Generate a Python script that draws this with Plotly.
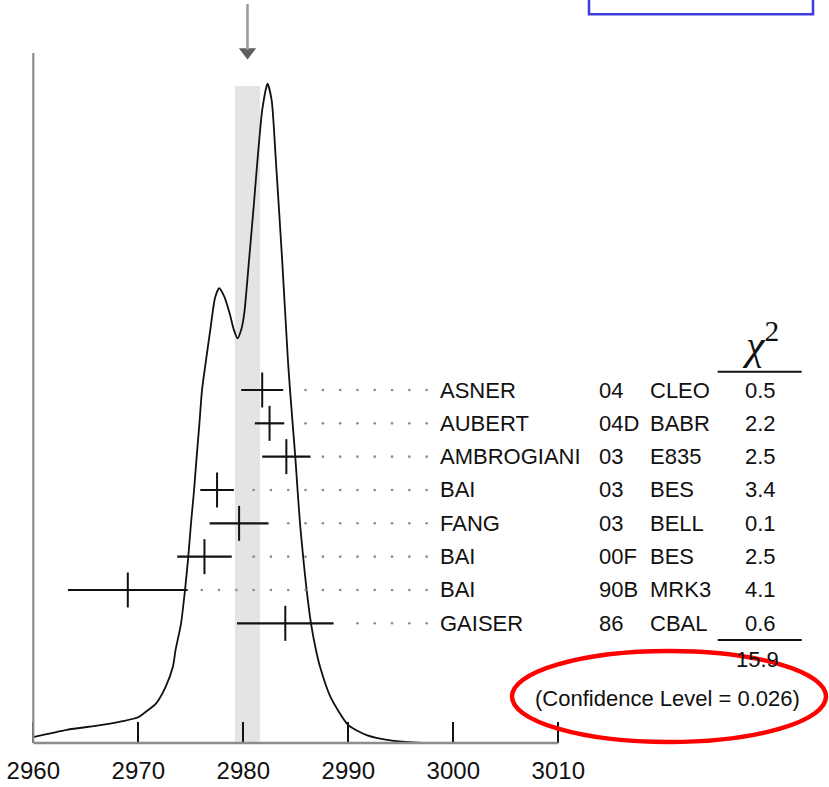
import numpy as np
import plotly.graph_objects as go

# Ideogram of the eta_c mass measurements (arbitrary units, peak ~ 1)
ideo_mass = [2960.0, 2963.2, 2966.4, 2968.5, 2970.0, 2970.7, 2971.7, 2972.6, 2973.3,
             2973.55, 2974.07, 2974.45, 2974.76, 2975.02, 2975.31, 2975.56, 2975.82,
             2976.07, 2976.45, 2976.9, 2977.3, 2977.7, 2978.2, 2978.7, 2979.1, 2979.45,
             2979.8, 2980.1, 2980.55, 2981.0, 2981.35, 2981.8, 2982.3, 2982.7, 2983.1,
             2983.7, 2984.25, 2984.45, 2984.7, 2984.95, 2985.17, 2985.4, 2985.7, 2986.03,
             2986.45, 2986.92, 2987.3, 2988.3, 2990.0, 2991.75, 2994.0, 2996.2, 2998.0,
             3000.0]
ideo_height = [0.009, 0.020, 0.027, 0.033, 0.039, 0.047, 0.060, 0.085, 0.116,
               0.141, 0.181, 0.232, 0.282, 0.333, 0.383, 0.434, 0.484,
               0.535, 0.580, 0.631, 0.674, 0.689, 0.676, 0.651, 0.626, 0.613,
               0.626, 0.652, 0.732, 0.815, 0.883, 0.959, 0.999, 0.974, 0.883,
               0.732, 0.580, 0.535, 0.484, 0.434, 0.383, 0.333, 0.282, 0.232,
               0.181, 0.141, 0.116, 0.070, 0.027, 0.012, 0.004, 0.001, 0.0,
               0.0]

# Individual measurements
authors = ["ASNER", "AUBERT", "AMBROGIANI", "BAI", "FANG", "BAI", "BAI", "GAISER"]
years = ["04", "04D", "03", "03", "03", "00F", "90B", "86"]
experiments = ["CLEO", "BABR", "E835", "BES", "BELL", "BES", "MRK3", "CBAL"]
values = [2981.8, 2982.5, 2984.1, 2977.5, 2979.6, 2976.3, 2969.0, 2984.0]
errors = [2.0, 1.4, 2.3, 1.6, 2.8, 2.6, 5.7, 4.6]
chi2 = [0.5, 2.2, 2.5, 3.4, 0.1, 2.5, 4.1, 0.6]
chi2_total = 15.9
confidence_level = 0.026

# Weighted average and its error
average = 2980.4
average_err = 1.2

tick_values = [2960, 2970, 2980, 2990, 3000, 3010]
tick_labels = ["2960", "2970", "2980", "2990", "3000", "3010"]

W, H = 829, 787
BOTTOM = 44
PLOT_H = H - BOTTOM
PX_PER_MEV = 10.5
X0 = 2960 - 33.3 / PX_PER_MEV
X1 = X0 + W / PX_PER_MEV
PX_PER_UNIT = 660.0
Y_TOP = PLOT_H / PX_PER_UNIT

ROW0_PX, ROW_STEP = 390.0, 33.33
Y2_RANGE = [(PLOT_H - ROW0_PX) / ROW_STEP, -ROW0_PX / ROW_STEP]

TEXT_FONT = dict(family="Liberation Sans, Arial, sans-serif", size=22, color="#111111")

rows = list(range(len(values)))

fig = go.Figure()

# ideogram curve
fig.add_trace(go.Scatter(
    x=ideo_mass, y=ideo_height, mode="lines",
    line=dict(color="#111111", width=1.8, shape="spline", smoothing=0.6),
    hoverinfo="skip", showlegend=False))

# dotted leaders from each measurement to its label
dot_start, dot_step, dot_end = 2976.04, 1.648, 2997.6
grid = np.arange(dot_start, dot_end, dot_step)
dx, dy = [], []
for r, v, e in zip(rows, values, errors):
    for g in grid:
        if g > v + e + 0.8:
            dx.append(g)
            dy.append(r)
fig.add_trace(go.Scatter(
    x=dx, y=dy, yaxis="y2", mode="markers",
    marker=dict(symbol="circle", size=2.6, color="#8a8a8a"),
    hoverinfo="skip", showlegend=False))

# measurements with error bars
fig.add_trace(go.Scatter(
    x=values, y=rows, yaxis="y2", mode="markers",
    marker=dict(symbol="line-ns", size=25, line=dict(color="#111111", width=2)),
    error_x=dict(type="data", array=errors, color="#111111", thickness=2.2, width=0),
    hoverinfo="skip", showlegend=False))

# arrowhead marking the average, above the ideogram
arrow_tip = (PLOT_H - 63) / PX_PER_UNIT
fig.add_trace(go.Scatter(
    x=[average], y=[arrow_tip + 11 / PX_PER_UNIT], mode="markers",
    marker=dict(symbol="triangle-down", size=[15], color="#1a1a1a",
                line=dict(width=0)),
    cliponaxis=False, hoverinfo="skip", showlegend=False))

shapes = [
    # average band
    dict(type="rect", xref="x", yref="paper", x0=average - average_err,
         x1=average + average_err, y0=0, y1=(PLOT_H - 86) / PLOT_H,
         fillcolor="#e4e4e4", line=dict(width=0), layer="below"),
    # arrow shaft
    dict(type="line", xref="x", yref="paper", x0=average, x1=average,
         y0=(PLOT_H - 50) / PLOT_H, y1=(PLOT_H - 4) / PLOT_H,
         line=dict(color="#9a9a9a", width=2.5)),
    # frame lines
    dict(type="line", xref="x", yref="paper", x0=2960, x1=3010, y0=0, y1=0,
         line=dict(color="#8c8c8c", width=2.5), layer="above"),
    dict(type="line", xref="x", yref="paper", x0=2960, x1=2960, y0=0,
         y1=(PLOT_H - 53) / PLOT_H, line=dict(color="#8c8c8c", width=2.2), layer="above"),
    # chi2 column rules
    dict(type="line", xref="paper", yref="y2", x0=717.7 / W, x1=801.7 / W,
         y0=-0.55, y1=-0.55, line=dict(color="#111111", width=2)),
    dict(type="line", xref="paper", yref="y2", x0=717.7 / W, x1=801.7 / W,
         y0=7.5, y1=7.5, line=dict(color="#111111", width=2)),
    # highlight around confidence level
    dict(type="circle", xref="paper", yref="paper", x0=512 / W, x1=826 / W,
         y0=(PLOT_H - 742) / PLOT_H, y1=(PLOT_H - 651) / PLOT_H,
         line=dict(color="#ff0000", width=4.5), layer="above"),
    # box at top right
    dict(type="rect", xref="paper", yref="paper", x0=589 / W, x1=813 / W,
         y0=(PLOT_H - 14.3) / PLOT_H, y1=1.05,
         line=dict(color="#3c3ce0", width=2.5), fillcolor="rgba(0,0,0,0)"),
]

annotations = []
for r, a, yr, ex, c in zip(rows, authors, years, experiments, chi2):
    annotations.append(dict(x=438 / W, xref="paper", y=r, yref="y2", text=a,
                            showarrow=False, xanchor="left", yanchor="middle", font=TEXT_FONT))
    annotations.append(dict(x=596.5 / W, xref="paper", y=r, yref="y2", text=yr,
                            showarrow=False, xanchor="left", yanchor="middle", font=TEXT_FONT))
    annotations.append(dict(x=647.5 / W, xref="paper", y=r, yref="y2", text=ex,
                            showarrow=False, xanchor="left", yanchor="middle", font=TEXT_FONT))
    annotations.append(dict(x=760 / W, xref="paper", y=r, yref="y2", text=f"{c:.1f}",
                            showarrow=False, xanchor="center", yanchor="middle", font=TEXT_FONT))

annotations += [
    dict(x=757 / W, xref="paper", y=8.1, yref="y2", text=f"{chi2_total:.1f}",
         showarrow=False, xanchor="center", yanchor="middle", font=TEXT_FONT),
    dict(x=667 / W, xref="paper", y=9.25, yref="y2",
         text=f"(Confidence Level = {confidence_level:.3f})",
         showarrow=False, xanchor="center", yanchor="middle", font=TEXT_FONT),
    dict(x=760 / W, xref="paper", y=-0.6, yref="y2", text="<i>χ</i><sup>2</sup>",
         showarrow=False, xanchor="center", yanchor="bottom",
         font=dict(family="Liberation Serif, Times New Roman, serif", size=42, color="#111111")),
]

fig.update_layout(
    width=W, height=H,
    margin=dict(l=0, r=0, t=0, b=BOTTOM, pad=0),
    paper_bgcolor="white", plot_bgcolor="white",
    showlegend=False,
    xaxis=dict(range=[X0, X1], tickmode="array", tickvals=tick_values, ticktext=tick_labels,
               ticks="inside", ticklen=21, tickwidth=1.5, tickcolor="#111111",
               showline=False, showgrid=False, zeroline=False,
               tickfont=dict(family="Liberation Sans, Arial, sans-serif",
                             size=24, color="#111111"),
               ticklabelstandoff=11, fixedrange=True),
    yaxis=dict(range=[0, Y_TOP], visible=False, fixedrange=True),
    yaxis2=dict(range=Y2_RANGE, overlaying="y", visible=False, fixedrange=True),
    shapes=shapes,
    annotations=annotations,
)

fig.write_html("out.html")
